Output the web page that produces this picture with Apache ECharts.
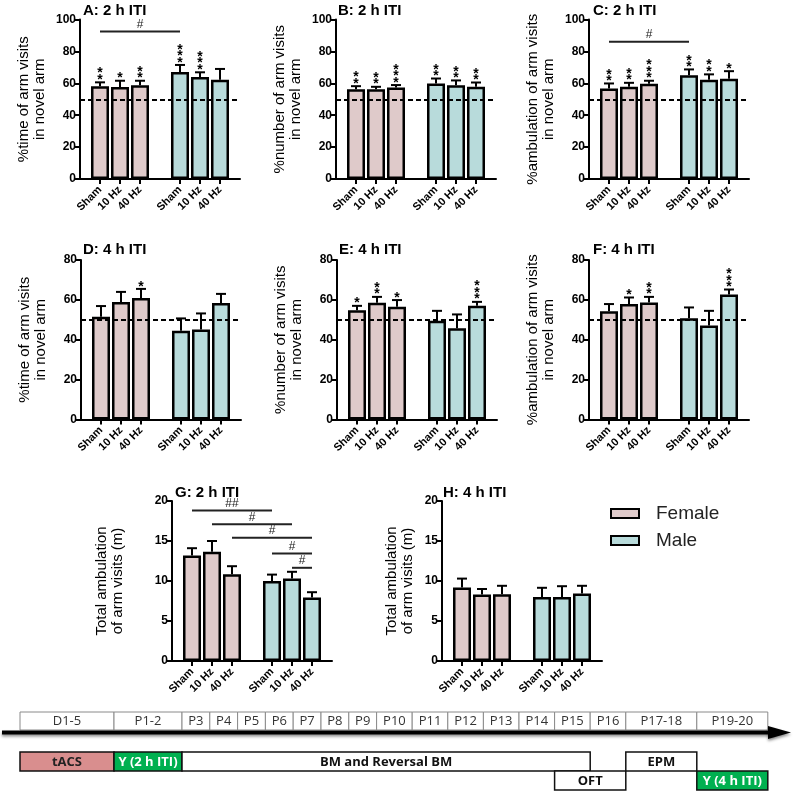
<!DOCTYPE html>
<html>
<head>
<meta charset="utf-8">
<script src="https://cdn.jsdelivr.net/npm/echarts@6/dist/echarts.min.js"></script>
<style>
  html, body { margin: 0; padding: 0; background: #fff; }
  #chart { width: 794px; height: 795px; }
</style>
</head>
<body>
<div id="chart"></div>
<script>
// categories (empty slots give the gap between the groups)
const categories = ['', 'Sham', '10 Hz', '40 Hz', '', 'Sham', '10 Hz', '40 Hz', '']
const femaleSlots = [1, 2, 3]
const maleSlots = [5, 6, 7]

// A: %time, 2 h ITI
const aFemaleMean = [58.1, 57.7, 58.7]
const aFemaleSem = [2.5, 3.9, 2.9]
const aMaleMean = [67.1, 63.9, 62.3]
const aMaleSem = [4.4, 3.0, 6.7]
const aFemaleStars = ['**', '*', '**']
const aMaleStars = ['***', '***', '']
const aBrackets = [[1, 5, 92.5, '#']]

// B: %number, 2 h ITI
const bFemaleMean = [56.2, 56.2, 57.4]
const bFemaleSem = [2.0, 1.6, 1.5]
const bMaleMean = [59.9, 58.7, 57.8]
const bMaleSem = [3.1, 3.1, 2.7]
const bFemaleStars = ['**', '**', '***']
const bMaleStars = ['**', '**', '**']

// C: %ambulation, 2 h ITI
const cFemaleMean = [56.8, 57.8, 59.7]
const cFemaleSem = [3.1, 2.5, 1.9]
const cMaleMean = [65.1, 62.2, 62.8]
const cMaleSem = [3.6, 3.4, 4.8]
const cFemaleStars = ['**', '**', '***']
const cMaleStars = ['**', '**', '*']
const cBrackets = [[1, 5, 86, '#']]

// D: %time, 4 h ITI
const dFemaleMean = [51.5, 58.9, 61.0]
const dFemaleSem = [5.4, 5.1, 4.5]
const dMaleMean = [44.5, 45.2, 58.4]
const dMaleSem = [6.2, 8.0, 4.6]
const dFemaleStars = ['', '', '*']
const dMaleStars = ['', '', '']

// E: %number, 4 h ITI
const eFemaleMean = [54.8, 58.5, 56.5]
const eFemaleSem = [2.2, 3.0, 3.4]
const eMaleMean = [49.5, 45.8, 57.0]
const eMaleSem = [5.0, 6.9, 2.0]
const eFemaleStars = ['*', '**', '*']
const eMaleStars = ['', '', '***']

// F: %ambulation, 4 h ITI
const fFemaleMean = [54.3, 57.9, 58.7]
const fFemaleSem = [3.6, 3.3, 2.8]
const fMaleMean = [50.8, 47.2, 62.7]
const fMaleSem = [5.4, 7.3, 2.5]
const fFemaleStars = ['', '*', '**']
const fMaleStars = ['', '', '***']

// G: total ambulation, 2 h ITI
const gFemaleMean = [13.2, 13.65, 10.85]
const gFemaleSem = [0.9, 1.35, 1.0]
const gMaleMean = [10.0, 10.3, 7.95]
const gMaleSem = [0.8, 0.85, 0.65]
const gBrackets = [[1, 5, 18.8, '##'], [2, 6, 17.1, '#'], [3, 7, 15.4, '#'], [5, 7, 13.45, '#'], [6, 7, 11.65, '#']]

// H: total ambulation, 4 h ITI
const hFemaleMean = [9.2, 8.3, 8.35]
const hFemaleSem = [1.1, 0.7, 1.05]
const hMaleMean = [8.0, 8.0, 8.45]
const hMaleSem = [1.15, 1.35, 0.95]

// timeline
const cellLabels = ['D1-5', 'P1-2', 'P3', 'P4', 'P5', 'P6', 'P7', 'P8', 'P9',
  'P10', 'P11', 'P12', 'P13', 'P14', 'P15', 'P16', 'P17-18', 'P19-20']
const events = [
  { label: 'tACS', from: 0, to: 0, row: 0, fill: '#d98e8e', color: '#222' },
  { label: 'Y (2 h ITI)', from: 1, to: 1, row: 0, fill: '#00b050', color: '#fff' },
  { label: 'BM and Reversal BM', from: 2, to: 14, row: 0, fill: '#fff', color: '#111' },
  { label: 'OFT', from: 14, to: 15, row: 1, fill: '#fff', color: '#111' },
  { label: 'EPM', from: 16, to: 16, row: 0, fill: '#fff', color: '#111' },
  { label: 'Y (4 h ITI)', from: 17, to: 17, row: 1, fill: '#00b050', color: '#fff' }
]

const FEMALE = '#dfcaca'
const MALE = '#b8dbdb'
const FONT = 'Liberation Sans, Arial, sans-serif'

const nameTime = '%time of arm visits\nin novel arm'
const nameNumber = '%number of arm visits\nin novel arm'
const nameAmb = '%ambulation of arm visits\nin novel arm'
const nameTotal = 'Total ambulation\nof arm visits (m)'

const panels = [
  { title: 'A: 2 h ITI', tl: [83, 3], grid: [80, 19.5, 159.5], yName: nameTime, gap: 32, max: 100, step: 20, chance: true,
    fm: aFemaleMean, fs: aFemaleSem, mm: aMaleMean, ms: aMaleSem, fStars: aFemaleStars, mStars: aMaleStars, brackets: aBrackets },
  { title: 'B: 2 h ITI', tl: [338, 3], grid: [336, 19.5, 159.5], yName: nameNumber, gap: 32, max: 100, step: 20, chance: true,
    fm: bFemaleMean, fs: bFemaleSem, mm: bMaleMean, ms: bMaleSem, fStars: bFemaleStars, mStars: bMaleStars, brackets: [] },
  { title: 'C: 2 h ITI', tl: [593, 3], grid: [589, 19.5, 159.5], yName: nameAmb, gap: 32, max: 100, step: 20, chance: true,
    fm: cFemaleMean, fs: cFemaleSem, mm: cMaleMean, ms: cMaleSem, fStars: cFemaleStars, mStars: cMaleStars, brackets: cBrackets },
  { title: 'D: 4 h ITI', tl: [83, 242], grid: [81, 260, 159.5], yName: nameTime, gap: 32, max: 80, step: 20, chance: true,
    fm: dFemaleMean, fs: dFemaleSem, mm: dMaleMean, ms: dMaleSem, fStars: dFemaleStars, mStars: dMaleStars, brackets: [] },
  { title: 'E: 4 h ITI', tl: [339, 242], grid: [337, 260, 159.5], yName: nameNumber, gap: 32, max: 80, step: 20, chance: true,
    fm: eFemaleMean, fs: eFemaleSem, mm: eMaleMean, ms: eMaleSem, fStars: eFemaleStars, mStars: eMaleStars, brackets: [] },
  { title: 'F: 4 h ITI', tl: [593, 242], grid: [589, 260, 159.5], yName: nameAmb, gap: 32, max: 80, step: 20, chance: true,
    fm: fFemaleMean, fs: fFemaleSem, mm: fMaleMean, ms: fMaleSem, fStars: fFemaleStars, mStars: fMaleStars, brackets: [] },
  { title: 'G: 2 h ITI', tl: [175, 485], grid: [172, 501, 160], yName: nameTotal, gap: 46, max: 20, step: 5, chance: false,
    fm: gFemaleMean, fs: gFemaleSem, mm: gMaleMean, ms: gMaleSem, fStars: [], mStars: [], brackets: gBrackets },
  { title: 'H: 4 h ITI', tl: [443, 485], grid: [442, 501, 160], yName: nameTotal, gap: 26, max: 20, step: 5, chance: false,
    fm: hFemaleMean, fs: hFemaleSem, mm: hMaleMean, ms: hMaleSem, fStars: [], mStars: [], brackets: [] }
]

function slotData(slots, values) {
  const out = categories.map(() => '-')
  slots.forEach((s, i) => { out[s] = values[i] })
  return out
}

function renderErr(params, api) {
  const x = api.value(0)
  const p0 = api.coord([x, api.value(1)])
  const p1 = api.coord([x, api.value(2)])
  const st = { stroke: '#000', lineWidth: 2 }
  return {
    type: 'group',
    children: [
      { type: 'line', shape: { x1: p0[0], y1: p0[1], x2: p1[0], y2: p1[1] }, style: st },
      { type: 'line', shape: { x1: p1[0] - 5, y1: p1[1], x2: p1[0] + 5, y2: p1[1] }, style: st }
    ]
  }
}

const grids = [], xAxes = [], yAxes = [], series = [], titles = []

panels.forEach((p, k) => {
  grids.push({ left: p.grid[0], top: p.grid[1], width: 160, height: p.grid[2] })
  titles.push({
    text: p.title, left: p.tl[0], top: p.tl[1], padding: 0,
    textStyle: { fontSize: 15, fontWeight: 'bold', color: '#000', fontFamily: FONT }
  })
  xAxes.push({
    type: 'category', gridIndex: k, data: categories, boundaryGap: false,
    axisLine: { lineStyle: { color: '#000', width: 2 } },
    axisTick: { interval: (i, v) => v !== '', length: 5, lineStyle: { color: '#000', width: 2 } },
    axisLabel: { interval: 0, rotate: 45, fontSize: 11, fontWeight: 'bold', color: '#000', margin: 9, fontFamily: FONT },
    splitLine: { show: false }
  })
  yAxes.push({
    type: 'value', gridIndex: k, min: 0, max: p.max, interval: p.step,
    name: p.yName, nameLocation: 'middle', nameGap: p.gap,
    nameTextStyle: { fontSize: 15, lineHeight: 16, color: '#000', fontFamily: FONT },
    axisLine: { show: true, lineStyle: { color: '#000', width: 2 } },
    axisTick: { show: true, length: 5, lineStyle: { color: '#000', width: 2 } },
    axisLabel: { fontSize: 12, fontWeight: 'bold', color: '#000', margin: 4, fontFamily: FONT },
    splitLine: { show: false }
  })

  const fem = {
    name: 'Female', type: 'bar', xAxisIndex: k, yAxisIndex: k, barWidth: 18, barGap: '-100%',
    data: slotData(femaleSlots, p.fm),
    itemStyle: { color: FEMALE, borderColor: '#000', borderWidth: 2.5 }, z: 2
  }
  if (p.chance) {
    fem.markLine = {
      silent: true, symbol: 'none', label: { show: false },
      lineStyle: { color: '#000', type: [5, 3], width: 2 },
      data: [{ yAxis: 50 }]
    }
  }
  series.push(fem)
  series.push({
    name: 'Male', type: 'bar', xAxisIndex: k, yAxisIndex: k, barWidth: 18, barGap: '-100%',
    data: slotData(maleSlots, p.mm),
    itemStyle: { color: MALE, borderColor: '#000', borderWidth: 2.5 }, z: 2
  })

  const errData = femaleSlots.map((s, i) => [s, p.fm[i], p.fm[i] + p.fs[i]])
    .concat(maleSlots.map((s, i) => [s, p.mm[i], p.mm[i] + p.ms[i]]))
  series.push({
    type: 'custom', xAxisIndex: k, yAxisIndex: k, data: errData, renderItem: renderErr, z: 3, silent: true
  })

  // stars above error bars
  const starData = [], starText = []
  femaleSlots.forEach((s, i) => {
    if (p.fStars[i]) { starData.push([s, p.fm[i] + p.fs[i]]); starText.push(p.fStars[i]) }
  })
  maleSlots.forEach((s, i) => {
    if (p.mStars[i]) { starData.push([s, p.mm[i] + p.ms[i]]); starText.push(p.mStars[i]) }
  })
  if (starData.length) {
    series.push({
      type: 'custom', xAxisIndex: k, yAxisIndex: k, data: starData, z: 4, silent: true,
      renderItem: (params, api) => {
        const pt = api.coord([api.value(0), api.value(1)])
        return {
          type: 'text', x: pt[0], y: pt[1] + 1,
          style: {
            text: starText[params.dataIndex].split('').join('\n'),
            fill: '#000', fontSize: 14, fontWeight: 'bold', fontFamily: FONT,
            lineHeight: 6.5, align: 'center', verticalAlign: 'bottom'
          }
        }
      }
    })
  }

  // significance brackets between groups
  if (p.brackets.length) {
    const brData = p.brackets.map(b => [b[0], b[2], b[1]])
    series.push({
      type: 'custom', xAxisIndex: k, yAxisIndex: k, data: brData, z: 4, silent: true,
      renderItem: (params, api) => {
        const a = api.coord([api.value(0), api.value(1)])
        const b = api.coord([api.value(2), api.value(1)])
        return {
          type: 'group',
          children: [
            { type: 'line', shape: { x1: a[0], y1: a[1], x2: b[0], y2: b[1] }, style: { stroke: '#222', lineWidth: 2 } },
            {
              type: 'text', x: (a[0] + b[0]) / 2, y: a[1] - 1,
              style: {
                text: p.brackets[params.dataIndex][3], fill: '#222', fontSize: 12,
                fontFamily: FONT, align: 'center', verticalAlign: 'bottom'
              }
            }
          ]
        }
      }
    })
  }
})

// timeline drawing (schematic)
const cellWidths = [94, 68].concat(Array(7).fill(27.8), Array(7).fill(35.6), [71, 71])
const edges = [20]
cellWidths.forEach(w => edges.push(edges[edges.length - 1] + w))
const graphics = []
cellLabels.forEach((lab, i) => {
  graphics.push({
    type: 'rect', shape: { x: edges[i], y: 712, width: cellWidths[i], height: 18 },
    style: { fill: '#fff', stroke: '#8a8a8a', lineWidth: 1 }
  })
  graphics.push({
    type: 'text', x: edges[i] + cellWidths[i] / 2, y: 721,
    style: { text: lab, fill: '#333', fontSize: 13, fontFamily: 'Open Sans, Noto Sans, sans-serif', align: 'center', verticalAlign: 'middle' }
  })
})
graphics.push({
  type: 'line', shape: { x1: 2, y1: 732.5, x2: 775, y2: 732.5 },
  style: { stroke: '#000', lineWidth: 4, shadowBlur: 3, shadowColor: 'rgba(0,0,0,0.45)', shadowOffsetY: 2 }
})
graphics.push({
  type: 'polygon', shape: { points: [[768, 726], [791, 732.5], [768, 739]] },
  style: { fill: '#000', shadowBlur: 3, shadowColor: 'rgba(0,0,0,0.45)', shadowOffsetY: 2 }
})
events.forEach(ev => {
  const x0 = edges[ev.from], x1 = edges[ev.to + 1]
  const y0 = ev.row === 0 ? 752 : 771
  graphics.push({
    type: 'rect', shape: { x: x0, y: y0, width: x1 - x0, height: 19 },
    style: { fill: ev.fill, stroke: '#111', lineWidth: 1.5 }
  })
  graphics.push({
    type: 'text', x: (x0 + x1) / 2, y: y0 + 10,
    style: { text: ev.label, fill: ev.color, fontSize: 13, fontWeight: 'bold', fontFamily: 'Open Sans, Noto Sans, sans-serif', align: 'center', verticalAlign: 'middle' }
  })
})

const chart = echarts.init(document.getElementById('chart'))
chart.setOption({
  animation: false,
  backgroundColor: '#fff',
  textStyle: { fontFamily: FONT },
  title: titles,
  legend: {
    orient: 'vertical', left: 605, top: 499, itemWidth: 28, itemHeight: 9, itemGap: 8,
    icon: 'rect',
    data: [
      { name: 'Female', itemStyle: { color: FEMALE, borderColor: '#000', borderWidth: 2 } },
      { name: 'Male', itemStyle: { color: MALE, borderColor: '#000', borderWidth: 2 } }
    ],
    textStyle: { fontSize: 19, color: '#222', padding: [0, 0, 0, 12], fontFamily: FONT }
  },
  grid: grids,
  xAxis: xAxes,
  yAxis: yAxes,
  series: series,
  graphic: graphics
})
</script>
</body>
</html>
